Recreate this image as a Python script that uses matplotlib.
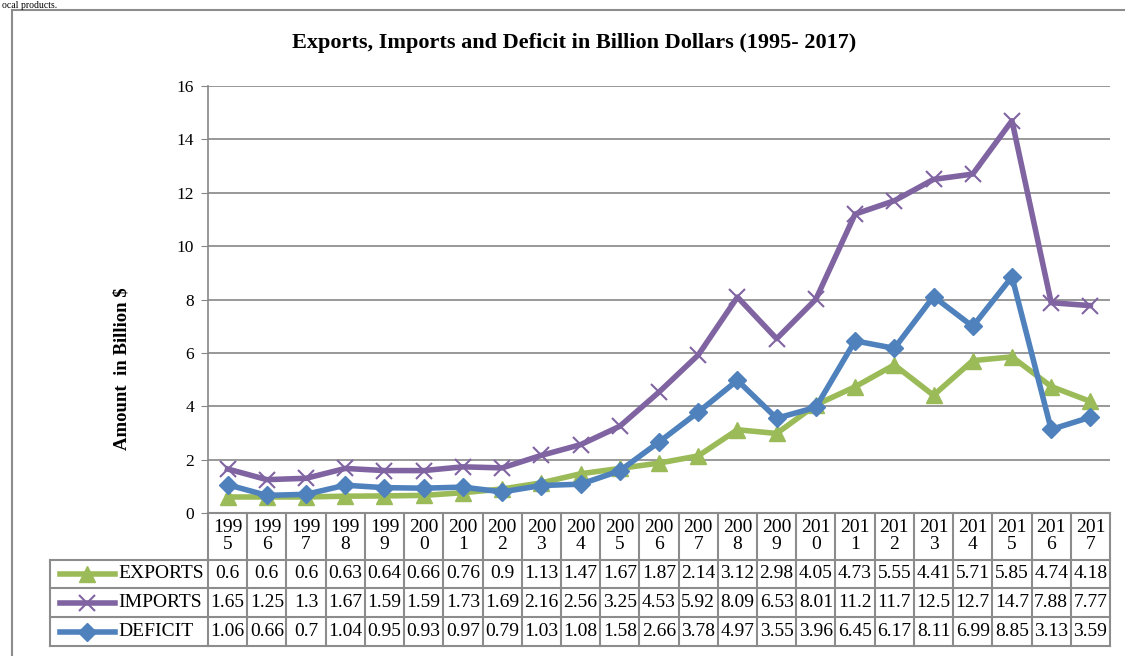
import matplotlib
matplotlib.use('Agg')
from matplotlib import pyplot as plt
from matplotlib import patches
from matplotlib.lines import Line2D
import numpy as np

plt.rcParams['font.family'] = ['Liberation Serif', 'DejaVu Serif']

years = [ str( y ) for y in range( 1995 , 2018 ) ]
exports = [ 0.6 , 0.6 , 0.6 , 0.63 , 0.64 , 0.66 , 0.76 , 0.9 , 1.13 , 1.47 , 1.67 , 1.87 , 2.14 , 3.12 , 2.98 , 4.05 , 4.73 , 5.55 , 4.41 , 5.71 , 5.85 , 4.74 , 4.18 ]
imports = [ 1.65 , 1.25 , 1.3 , 1.67 , 1.59 , 1.59 , 1.73 , 1.69 , 2.16 , 2.56 , 3.25 , 4.53 , 5.92 , 8.09 , 6.53 , 8.01 , 11.2 , 11.7 , 12.5 , 12.7 , 14.7 , 7.88 , 7.77 ]
deficit = [ 1.06 , 0.66 , 0.7 , 1.04 , 0.95 , 0.93 , 0.97 , 0.79 , 1.03 , 1.08 , 1.58 , 2.66 , 3.78 , 4.97 , 3.55 , 3.96 , 6.45 , 6.17 , 8.11 , 6.99 , 8.85 , 3.13 , 3.59 ]

series_names = [ 'EXPORTS' , 'IMPORTS' , 'DEFICIT' ]
series_vals = [ exports , imports , deficit ]
series_cols = [ '#9BBB59' , '#8064A2' , '#4F81BD' ]
series_mk = [ '^' , 'x' , 'D' ]
series_ms = [ 11 , 11 , 9 ]

W , H = 1125 , 656
fig = plt.figure( figsize = ( W / 100 , H / 100 ) , dpi = 100 )

def fx( px ) :
    return px / W

def fy( py ) :
    return 1 - py / H

# outer frame and text from the page above
fig.patches.append( patches.Rectangle( ( fx( 12 ) , fy( 660 ) ) , fx( 1125 - 12 ) + 0.01 , fy( 10 ) - fy( 660 ) ,
                                        transform = fig.transFigure , fill = False , edgecolor = '#8c8c8c' , lw = 1.5 ) )
fig.text( fx( 2 ) , fy( 0.5 ) , 'ocal products.' , fontsize = 7 , va = 'top' )

ax = fig.add_axes( [ fx( 208 ) , fy( 513 ) , fx( 1110 - 208 ) , fy( 86 ) - fy( 513 ) ] )
x = np.arange( len( years ) )

for vals , col , mk , ms in zip( series_vals , series_cols , series_mk , series_ms ) :
    ax.plot( x , vals , color = col , lw = 4 , marker = mk , markersize = ms ,
             markeredgewidth = 1.5 if mk == 'x' else 1 , markeredgecolor = col , clip_on = False , zorder = 3 )

ax.set_xlim( -0.5 , len( years ) - 0.5 )
ax.set_ylim( 0 , 16 )
ax.set_yticks( range( 0 , 17 , 2 ) )
ax.tick_params( axis = 'y' , labelsize = 12.5 , length = 5 , color = '#868686' , pad = 5 )
ax.set_xticks( [ ] )
ax.grid( axis = 'y' , color = '#868686' , lw = 1.2 )
ax.set_axisbelow( True )
for s in [ 'top' , 'right' , 'bottom' ] :
    ax.spines[ s ].set_visible( False )
ax.spines[ 'left' ].set_color( '#868686' )
ax.spines[ 'left' ].set_linewidth( 1.2 )

fig.text( fx( 122 ) , fy( 369 ) , 'Amount  in Billion $' , fontsize = 13.5 , fontweight = 'bold' ,
          rotation = 90 , ha = 'center' , va = 'center' )
fig.text( fx( 574 ) , fy( 43 ) , 'Exports, Imports and Deficit in Billion Dollars (1995- 2017)' ,
          fontsize = 16 , fontweight = 'bold' , ha = 'center' , va = 'center' )

# data table below the plot (pixel rows)
rows = [ 513 , 560 , 588 , 617 , 646 ]
lc = '#8c8c8c'
ytr = lambda py : ( 513 - py ) / ( 513 - 86 )
tb = ax.get_xaxis_transform()
for i , yr in enumerate( years ) :
    ax.text( i , ytr( 536 ) , yr[ :3 ] + '\n' + yr[ 3: ] , transform = tb , ha = 'center' , va = 'center' ,
             fontsize = 14 , linespacing = 1.0 , clip_on = False )
    for r , vals in enumerate( series_vals ) :
        ax.text( i , ytr( ( rows[ r + 1 ] + rows[ r + 2 ] ) / 2 ) , '%g' % vals[ i ] , transform = tb ,
                 ha = 'center' , va = 'center' , fontsize = 14 , clip_on = False )

# grid lines of table
for i in range( len( years ) + 1 ) :
    ax.add_line( Line2D( [ i - 0.5 , i - 0.5 ] , [ ytr( rows[ 0 ] ) , ytr( rows[ -1 ] ) ] , transform = tb ,
                         color = lc , lw = 1.5 , clip_on = False ) )
ax.add_line( Line2D( [ -0.5 , len( years ) - 0.5 ] , [ 0 , 0 ] , transform = tb , color = lc , lw = 1.5 , clip_on = False ) )
for py in rows[ 1: ] :
    fig.add_artist( Line2D( [ fx( 50 ) , fx( 1110 ) ] , [ fy( py ) , fy( py ) ] , color = lc , lw = 1.5 ) )
fig.add_artist( Line2D( [ fx( 50 ) , fx( 50 ) ] , [ fy( rows[ 1 ] ) , fy( rows[ -1 ] ) ] , color = lc , lw = 1.5 ) )

# legend keys inside the row labels
for r , ( name , col , mk , ms ) in enumerate( zip( series_names , series_cols , series_mk , series_ms ) ) :
    yc = ( rows[ r + 1 ] + rows[ r + 2 ] ) / 2
    fig.add_artist( Line2D( [ fx( 60 ) , fx( 115 ) ] , [ fy( yc ) , fy( yc ) ] , color = col , lw = 4 ) )
    fig.add_artist( Line2D( [ fx( 87 ) ] , [ fy( yc ) ] , color = col , marker = mk , markersize = ms ,
                            markeredgewidth = 1.5 if mk == 'x' else 1 , markeredgecolor = col ) )
    fig.text( fx( 118 ) , fy( yc ) , name , fontsize = 14 , va = 'center' , ha = 'left' )

fig.savefig( 'out.png' , dpi = 100 )
